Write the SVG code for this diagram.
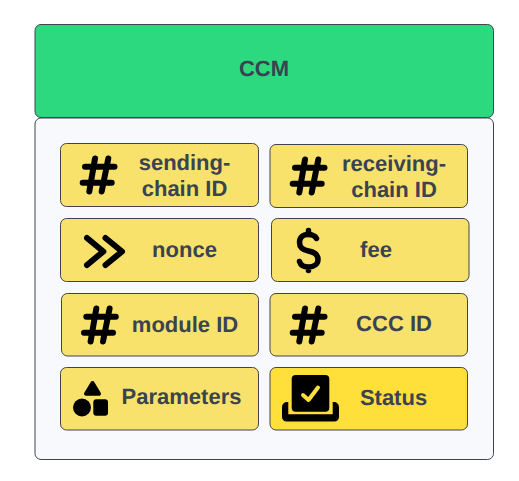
<svg xmlns="http://www.w3.org/2000/svg" width="519" height="481" viewBox="0 0 519 481">
<defs>
<style>
.box{stroke:#3d4450;stroke-width:1;}
.f{fill:#f8e26c;}
.s{fill:#ffe03a;}
text{font-family:"Liberation Sans",Arial,sans-serif;font-weight:700;font-size:22px;fill:#3a4350;text-anchor:middle;text-rendering:geometricPrecision;}
.ic{fill:none;stroke:#000;stroke-linecap:round;stroke-linejoin:round;}
</style>
<g id="hash"><path class="ic" stroke-width="6" d="M-3-16.500L-8.700 16.500M10.300-16.500L3.700 16.500M-13-8.300H16.500M-15.300 7.700H13.700"/></g>
</defs>
<rect width="519" height="481" fill="#fff"/>
<g id="container"><rect class="box" x="35" y="118" width="458.500" height="341.500" rx="6" fill="#f8f9fc"/></g>
<g id="ccm"><rect class="box" x="35" y="24.500" width="458.500" height="93" rx="6" fill="#2dd97f"/><text x="264" y="76">CCM</text></g>
<g id="sending-chain"><rect class="box f" x="60.500" y="143.500" width="198" height="63" rx="6"/><use href="#hash" x="98" y="175"/><text x="184.500" y="170">sending-</text><text x="184.500" y="196">chain ID</text></g>
<g id="receiving-chain"><rect class="box f" x="270" y="144.500" width="197.500" height="63" rx="6"/><use href="#hash" x="308" y="176"/><text x="394" y="170.500">receiving-</text><text x="394" y="197">chain ID</text></g>
<g id="nonce"><rect class="box f" x="60.500" y="218.500" width="198" height="63" rx="6"/><path class="ic" stroke-width="6" d="M87 238L103.300 251.500 87 265M105.500 238L122 251.500 105.500 265"/><text x="184.500" y="257">nonce</text></g>
<g id="fee"><rect class="box f" x="271.500" y="218.500" width="197.500" height="63" rx="6"/><path class="ic" stroke-width="5.500" d="M316.500 238.500C315 235.500 312 234.500 308 234.500C302.500 234.500 299.500 238 299.500 242.500C299.500 248 303 250 308.500 251C314 252 318 254.500 318 259.500C318 264 314 267 308.500 267C303.500 267 300.500 265 299.500 261.500M308.500 230.500V234.500M308.500 267V270.500"/><text x="376" y="257">fee</text></g>
<g id="module"><rect class="box f" x="61.500" y="293.500" width="197" height="62.500" rx="6"/><use href="#hash" x="99.300" y="325"/><text x="185" y="332">module ID</text></g>
<g id="ccc"><rect class="box f" x="270" y="293.500" width="197.500" height="62.500" rx="6"/><use href="#hash" x="308" y="325"/><text x="394" y="331">CCC ID</text></g>
<g id="parameters"><rect class="box f" x="60.500" y="367.500" width="198" height="62.500" rx="6"/><path d="M92.500 383L99 393.700H86Z" fill="#000" stroke="#000" stroke-width="4" stroke-linejoin="round"/><circle cx="82" cy="407.500" r="9" fill="#000"/><rect x="93.300" y="399.300" width="14.700" height="16.400" rx="3" fill="#000"/><text x="181.500" y="404">Parameters</text></g>
<g id="status"><rect class="box s" x="270" y="367.500" width="197.500" height="62.500" rx="6"/><rect x="291.700" y="375" width="37.600" height="36.700" rx="4" fill="#000"/><path d="M282 407a5 5 0 0 1 5-5h1.300v12.300h44.400v-12.300h1.300a5 5 0 0 1 5 5v10a4.500 4.500 0 0 1-4.500 4.500H286.500a4.500 4.500 0 0 1-4.500-4.500Z" fill="#000"/><path d="M303 395L308.500 400L318 387.500" fill="none" stroke="#ffe03a" stroke-width="4" stroke-linecap="round" stroke-linejoin="round"/><text x="393.500" y="405">Status</text></g>
</svg>
